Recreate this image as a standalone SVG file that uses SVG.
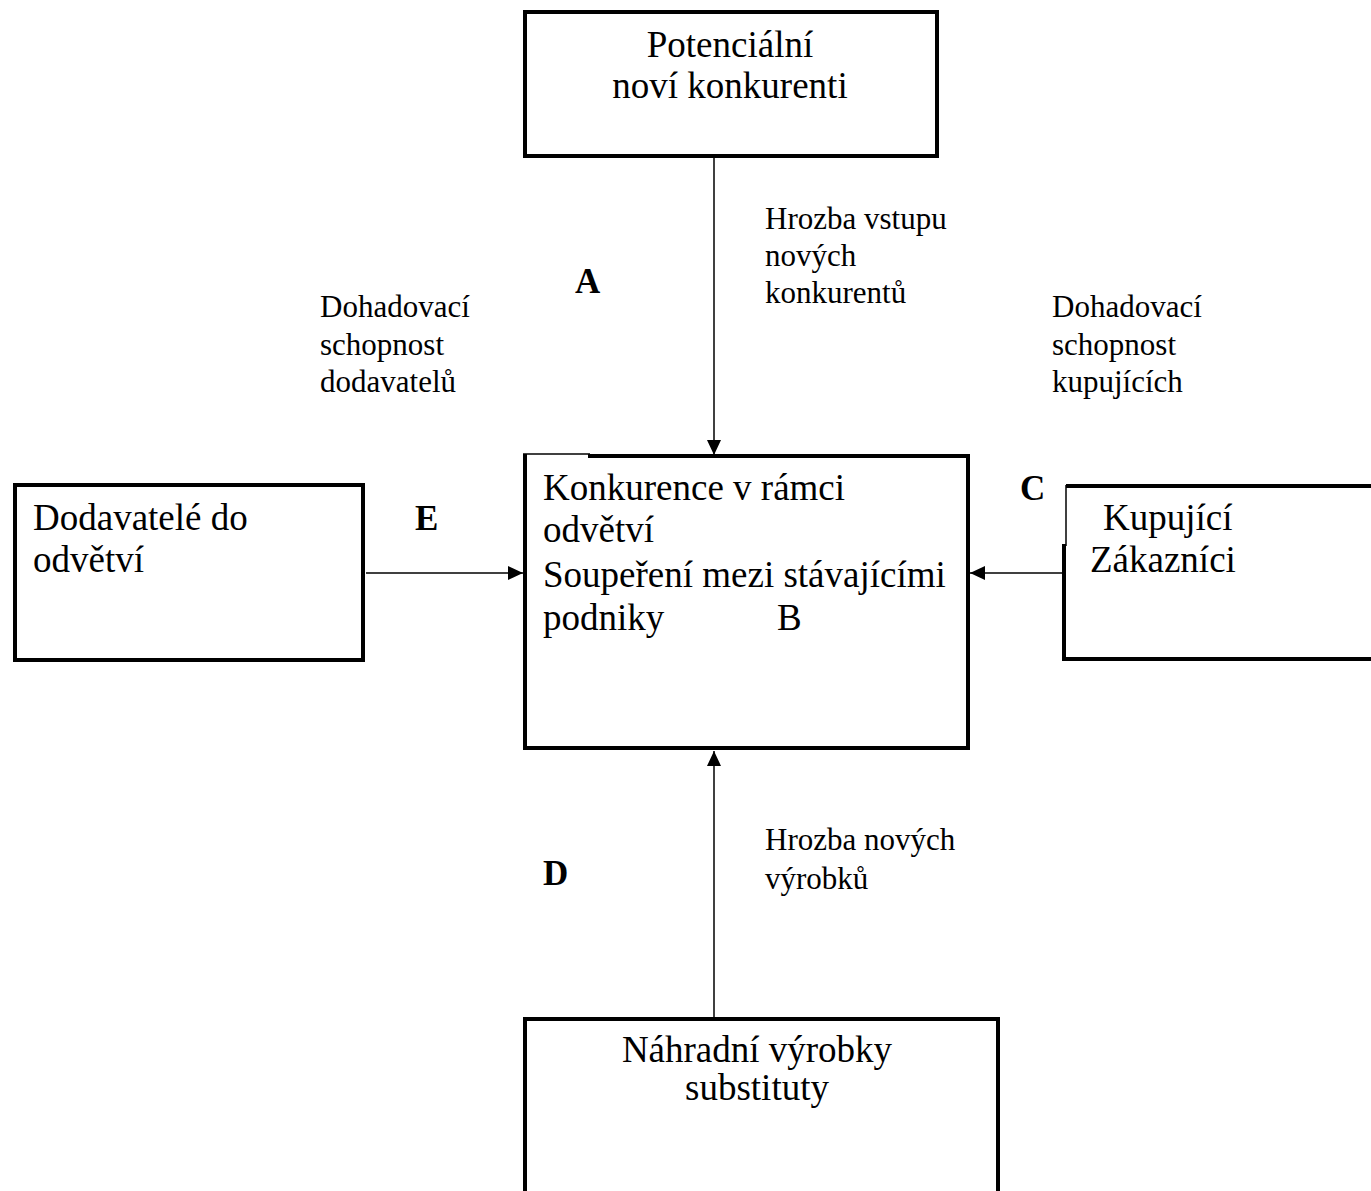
<svg xmlns="http://www.w3.org/2000/svg" width="1371" height="1191" viewBox="0 0 1371 1191">
<style>
.box{fill:none;stroke:#000;stroke-width:4}
.thin{fill:none;stroke:#000;stroke-width:1.5}
.big{font-family:"Liberation Serif","Times New Roman",serif;font-size:37px;fill:#000}
.lbl{font-family:"Liberation Serif","Times New Roman",serif;font-size:31px;fill:#000}
.let{font-family:"Liberation Serif","Times New Roman",serif;font-size:35px;font-weight:bold;fill:#000}
.conn{stroke:#000;stroke-width:1.5;fill:none;marker-end:url(#ah)}
</style>
<defs>
<marker id="ah" markerWidth="15" markerHeight="14" refX="15" refY="7" orient="auto" markerUnits="userSpaceOnUse">
<path d="M0,0 L15,7 L0,14 Z" fill="#000"/>
</marker>
</defs>
<rect width="1371" height="1191" fill="#fff"/>
<g id="connectors">
<line class="conn" x1="714" y1="157" x2="714" y2="455"/>
<line class="conn" x1="366" y1="573" x2="523" y2="573"/>
<line class="conn" x1="1063" y1="573" x2="970" y2="573"/>
<line class="conn" x1="714" y1="1017" x2="714" y2="751"/>
</g>
<g id="node-potencialni">
<rect class="box" x="525" y="12" width="412" height="144"/>
<text class="big" x="730" y="57" text-anchor="middle">Potenciální</text>
<text class="big" x="730" y="98" text-anchor="middle">noví konkurenti</text>
</g>
<g id="node-konkurence">
<path class="box" d="M588,456 L968,456 L968,748 L525,748 L525,454"/>
<line class="thin" x1="523" y1="454" x2="590" y2="454"/>
<text class="big" x="543" y="500">Konkurence v rámci</text>
<text class="big" x="543" y="542">odvětví</text>
<text class="big" x="543" y="587">Soupeření mezi stávajícími</text>
<text class="big" x="543" y="630">podniky</text>
<text class="big" x="777" y="630">B</text>
</g>
<g id="node-dodavatele">
<rect class="box" x="15" y="485" width="348" height="175"/>
<text class="big" x="33" y="530">Dodavatelé do</text>
<text class="big" x="33" y="572">odvětví</text>
</g>
<g id="node-kupujici">
<path class="box" d="M1373,486 L1066,486"/>
<line class="thin" x1="1066" y1="485" x2="1066" y2="546"/>
<path class="box" d="M1064,544 L1064,659 L1373,659"/>
<text class="big" x="1103" y="530">Kupující</text>
<text class="big" x="1090" y="572">Zákazníci</text>
</g>
<g id="node-nahradni">
<path class="box" d="M525,1195 L525,1019 L998,1019 L998,1195"/>
<text class="big" x="757" y="1062" text-anchor="middle">Náhradní výrobky</text>
<text class="big" x="757" y="1100" text-anchor="middle">substituty</text>
</g>
<g id="labels">
<text class="let" x="575" y="293">A</text>
<text class="let" x="1020" y="500">C</text>
<text class="let" x="543" y="885">D</text>
<text class="let" x="415" y="530">E</text>
<text class="lbl" x="765" y="229">Hrozba vstupu</text>
<text class="lbl" x="765" y="266">nových</text>
<text class="lbl" x="765" y="303">konkurentů</text>
<text class="lbl" x="320" y="317">Dohadovací</text>
<text class="lbl" x="320" y="355">schopnost</text>
<text class="lbl" x="320" y="392">dodavatelů</text>
<text class="lbl" x="1052" y="317">Dohadovací</text>
<text class="lbl" x="1052" y="355">schopnost</text>
<text class="lbl" x="1052" y="392">kupujících</text>
<text class="lbl" x="765" y="850">Hrozba nových</text>
<text class="lbl" x="765" y="889">výrobků</text>
</g>
</svg>
